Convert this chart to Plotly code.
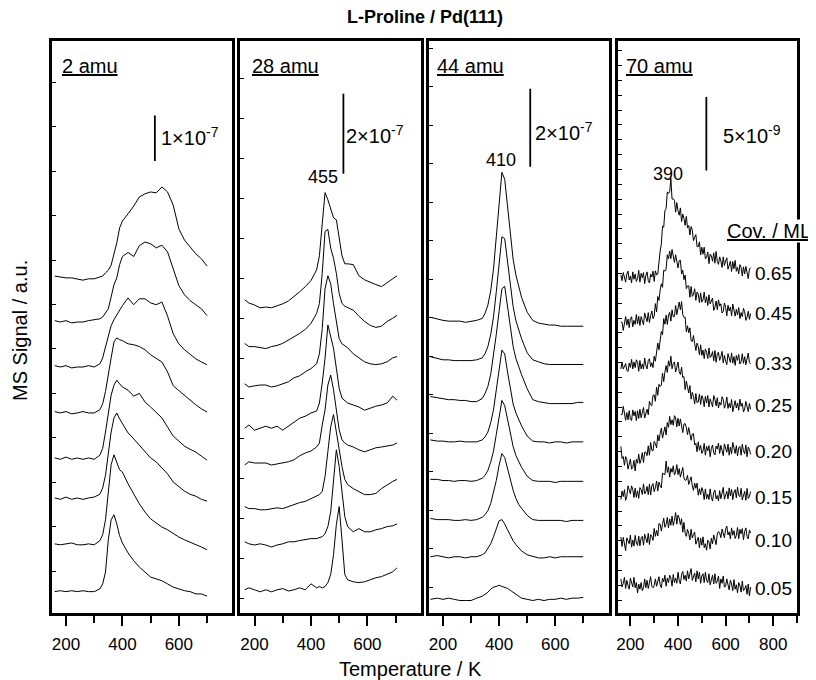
import plotly.graph_objects as go

# The page body has an 8 px margin; the figure fills the rest of the 816x680 window.
PAGE_OFF = 8
W, H = 816 - PAGE_OFF, 680 - PAGE_OFF
FONT = "Liberation Sans, Arial, sans-serif"

coverages = ["0.05", "0.10", "0.15", "0.20", "0.25", "0.33", "0.45", "0.65"]

# ---------------- 2 amu (signal in nA, baseline-subtracted) ----------------
T_2amu = [160, 180, 200, 220, 240, 260, 280, 300,
          320, 330, 340, 350, 360, 370, 380, 390, 400,
          420, 440, 460, 480, 500, 520, 540, 560, 580, 600, 620, 640, 660, 680, 700]
offset_2amu = [47, 152, 252, 340, 441, 542, 641, 739]
sig_2amu = [
    [0, 2, 0, 2, 0, 2, 0, 0, 6, 17, 43, 114, 158, 169, 149, 123, 107,
     85, 68, 54, 43, 32, 28, 24, 17, 10, 6, 2, 0, -5, -5, -10],
    [0, -2, 0, 2, -2, -2, 0, -2, 7, 20, 53, 119, 174, 196, 180, 163, 158,
     132, 110, 88, 70, 55, 46, 37, 31, 22, 15, 9, 4, -2, -7, -13],
    [1, -2, 3, -2, 1, -2, 1, 3, 9, 23, 51, 95, 146, 177, 188, 175, 164,
     144, 131, 117, 104, 89, 80, 67, 54, 36, 25, 16, 9, 5, -2, -6],
    [1, -2, 3, -2, 1, -2, 1, -2, 7, 22, 58, 102, 139, 161, 172, 164, 157,
     150, 137, 143, 124, 113, 102, 89, 69, 49, 38, 27, 20, 14, 5, -4],
    [2, -1, 2, -3, -1, 2, -1, -1, 6, 19, 46, 79, 120, 155, 164, 160, 158,
     151, 149, 145, 138, 127, 118, 111, 89, 59, 48, 37, 28, 17, 8, 1],
    [2, -1, 2, -3, -1, -1, 2, -1, 6, 19, 43, 68, 90, 103, 114, 123, 134,
     151, 136, 149, 149, 140, 136, 142, 111, 72, 50, 37, 26, 17, 10, 4],
    [2, -1, 2, -3, -1, -1, 2, 4, 6, 10, 19, 28, 54, 81, 96, 125, 143,
     152, 143, 167, 175, 171, 162, 168, 153, 114, 79, 59, 46, 37, 28, 13],
    [2, 0, -2, -2, -4, -7, -4, -4, 0, 2, 9, 15, 26, 48, 75, 108, 123,
     139, 156, 176, 183, 187, 185, 198, 187, 158, 106, 81, 66, 51, 40, 24],
]

# ---------------- 28 amu (nA) ----------------
T_28amu = [165, 180, 200, 220, 240, 260, 280, 300, 320, 340, 360, 380, 400, 420,
           430, 440, 450, 460, 470, 480, 490, 500, 510, 520, 530,
           550, 570, 590, 610, 630, 650, 670, 690, 705]
offset_28amu = [58, 178, 266, 370, 462, 573, 674, 783]
sig_28amu = [
    [0, 5, 0, -5, 0, -5, 0, 3, -3, 0, 5, 0, 15, 5,
     8, 5, 8, 18, 38, 88, 163, 208, 125, 38, 25,
     20, 18, 20, 25, 30, 33, 40, 45, 55],
    [0, -5, -8, -5, -8, -13, -8, -5, 0, 0, 3, 5, 8, 8,
     10, 13, 20, 38, 75, 150, 230, 188, 125, 63, 38,
     25, 33, 25, 25, 30, 33, 38, 40, 45],
    [0, -5, -5, -8, -8, -5, -3, -5, 0, 5, 10, 13, 20, 25,
     30, 38, 75, 138, 200, 230, 188, 138, 100, 68, 55,
     45, 38, 30, 30, 33, 45, 55, 63, 68],
    [0, 8, 5, 5, 5, 0, 3, 5, 8, 13, 23, 30, 35, 45,
     55, 100, 138, 200, 225, 188, 138, 88, 63, 55, 50,
     45, 38, 33, 38, 43, 45, 48, 50, 55],
    [0, 8, -5, 0, 5, 0, 5, -5, 5, 13, 25, 30, 38, 43,
     63, 113, 175, 258, 230, 200, 150, 100, 75, 68, 63,
     58, 53, 45, 50, 55, 58, 63, 80, 70],
    [0, -8, -5, -3, -3, -8, -5, 0, 5, 15, 20, 30, 38, 50,
     75, 138, 238, 270, 250, 200, 150, 113, 100, 95, 90,
     75, 65, 55, 50, 48, 50, 55, 65, 68],
    [0, -8, -8, -10, -13, -8, -5, 0, 8, 15, 25, 35, 50, 75,
     100, 175, 280, 285, 238, 213, 175, 125, 100, 93, 90,
     83, 68, 55, 45, 40, 43, 55, 63, 70],
    [0, -8, -13, -20, -18, -20, -15, -10, -3, 8, 20, 33, 48, 75,
     110, 190, 268, 250, 225, 205, 200, 150, 110, 90, 90,
     88, 60, 50, 43, 38, 33, 43, 53, 60],
]

# ---------------- 44 amu (nA) ----------------
T_44amu = [155, 180, 200, 220, 240, 260, 280, 300, 320, 340,
           350, 360, 370, 380, 390, 400, 410, 420, 430, 440, 450, 460, 470, 480,
           500, 520, 540, 560, 580, 600, 620, 640, 660, 680, 700]
offset_44amu = [35, 144, 242, 342, 443, 554, 656, 757]
sig_44amu = [
    [0, 3, 0, 3, 0, -3, -3, -3, 3, 8,
     13, 18, 26, 31, 33, 36, 33, 31, 28, 23, 18, 13, 8, 3,
     0, -3, 0, -3, 0, 0, 3, 0, 3, 3, 5],
    [0, 3, 0, -3, 0, 0, -3, 0, 0, 5,
     10, 20, 33, 51, 72, 92, 95, 84, 69, 54, 41, 31, 23, 15,
     5, 0, -3, -3, 0, -3, 0, 0, 0, 0, 0],
    [0, -3, -3, -3, -5, -5, -3, -5, -3, 3,
     10, 20, 38, 64, 97, 136, 166, 156, 128, 97, 72, 51, 36, 26,
     8, -3, -5, -5, -5, -5, -5, -8, -5, -5, -5],
    [0, 0, -3, -3, -5, -3, -3, -5, -3, 3,
     10, 23, 44, 72, 115, 164, 202, 189, 154, 115, 84, 61, 44, 31,
     8, -3, -5, -5, -5, -8, -5, -5, -5, -5, -5],
    [0, -3, -3, -5, -5, -3, -5, -5, -5, 0,
     8, 20, 44, 77, 123, 179, 230, 220, 174, 128, 92, 69, 51, 36,
     10, -3, -5, -5, -8, -5, -5, -8, -5, -5, -5],
    [0, -3, -5, -8, -8, -10, -10, -13, -13, -5,
     8, 26, 56, 102, 159, 218, 276, 282, 230, 172, 128, 97, 74, 56,
     20, -8, -13, -15, -18, -18, -18, -18, -18, -15, -15],
    [0, -5, -8, -8, -10, -10, -10, -10, -8, -3,
     8, 26, 56, 102, 166, 243, 307, 302, 243, 179, 128, 92, 67, 46,
     10, -8, -13, -18, -20, -20, -20, -20, -20, -20, -20],
    [0, -5, -8, -10, -10, -10, -13, -10, -8, -3,
     10, 31, 67, 123, 200, 287, 371, 353, 282, 205, 148, 108, 77, 51,
     13, -8, -15, -18, -20, -20, -23, -23, -23, -23, -23],
]

# ---------------- 70 amu (units of 1e-10 A), sampled every 5 K from 160 to 705 K ----------------
T_70amu = list(range(160, 706, 5))
offset_70amu = [20.2, 47.6, 81.6, 108.8, 138.0, 167.5, 194.7, 228.5]
sig_70amu = [
    # 0.05
    [3, -2.5, 0, 4, -3.5, 2, -1.5, -4, 3.5, 0.5,
     -2.5, 4, -3, 0.5, -6.5, -0.5, -4, 0.5, -5, -3,
     3, -3, 2, -3.5, 1, 4.5, -2, -3, -1.5, 3,
     -2, 2, 4.5, -1, -3, 3.5, 1, 5.5, -2, 3.5,
     0.5, 5.5, 3.5, -2, 6, 0.5, 3.5, 0, 7.5, 2,
     -0.5, 6, 8, 2.5, 5.5, 1.5, 8.5, 3, 7.5, 10,
     2, 4.5, 7, 1, 8.5, 3, 7.5, 0, 5, 6.5,
     0.5, 7.5, 2, 0.5, 6.5, -1, 3.5, 5.5, -0.5, 6.5,
     0, 1.5, 5, -3.5, 3, 0, 5, -2.5, -2, 3,
     -1, -4.5, 2, -0.5, -5, 2.5, -4, -1, -6.5, 0.5,
     -1.5, -6, 1.5, -5, -4, -1.5, -7.5, -0.5, -8.5, -2.5],
    # 0.10
    [4, -2.3, 3.9, -1.6, -5.2, 3.5, 1.7, -0.5, 5.4, -2.8,
     2, -2.1, 5.2, 0, -1.6, 4.7, -2, 3.5, 4.5, -1.5,
     6, 1.9, 0.2, 6.6, -1.1, 5.7, 4.6, 1.8, 9.9, 4.5,
     8.5, 4.8, 13.2, 12.9, 8.1, 12.7, 16.9, 10.7, 12.6, 17.4,
     10.3, 16.4, 12.1, 18.3, 12, 15.3, 20.7, 12.8, 19, 17,
     12.5, 16.5, 7.4, 14, 6.7, 4.5, 9.3, 6.5, 2.1, 9.3,
     3.4, 5.9, 7.4, -0.8, 1.5, 3.9, -3.3, 3.3, -1.5, 4.2,
     -3.2, -0.5, -4.9, 2, 0.8, -4, 3.2, -0.6, 5.5, 1.7,
     -1.1, 6.1, 7.8, 6.9, 3.6, 9.5, 5.8, 3.6, 9.5, 11.5,
     5.5, 7.6, 2.8, 10.3, 5.3, 8.4, 3.1, 5.1, 10.6, 2.9,
     9.3, 6.3, 9.8, 2.3, 7.8, 10.3, 4.3, 2.8, 8.8, 6.8],
    # 0.15
    [-4.5, 1.3, -2.4, 2.3, -5, -2.3, 4.9, 1.9, -0.6, 4.9,
     2.4, -3.1, 3.3, -2.9, 1.5, -3.6, 3.7, 2.4, -1, 6.2,
     -0.6, 0.7, 4.5, -1.1, 6.2, -1.4, 4.9, 6.4, 0.9, 3.7,
     8.1, 1.3, 7.4, 5, 3.5, 13.4, 12.7, 12.5, 21.7, 14,
     17.8, 10.8, 16.8, 14.1, 18.5, 12.3, 14.1, 19.3, 12.5, 16.6,
     10.8, 14.6, 17.4, 10.2, 8.6, 9, 12, 5.8, 9.2, 11,
     4.8, 1.8, 6.8, 3.2, 6.7, -1.5, 2.9, -1, 3.7, 1.3,
     -4.5, 2.8, -3.9, -0.9, -4.4, 2.8, -3, -5.5, 0.5, 2,
     -4, -1.7, -5.4, 1.6, -3.9, 1, 3.8, -4.2, -1.7, 1.2,
     -4, 3.5, -2, 2.5, -4.5, 0.7, 2.3, -3.3, 4, -1.5,
     -2.5, 3.2, -4.7, -0.5, 1.1, -4.9, 3.1, -3.7, -2.5, 1],
    # 0.20
    [4.5, -3.7, -2.4, -8.4, -2.4, -4.5, -11, -7.4, -4.2, -11,
     -9.8, -5, -12.2, -4.3, -6.9, -0.8, -7.1, -4.4, 0.3, -6.5,
     0.6, 0.6, -1.8, 4.9, -1.5, 7.2, 1.9, 1.4, 7.9, 6.5,
     3.5, 12.3, 8.2, 13.1, 16.9, 10.1, 13.8, 17.8, 12.3, 20.7,
     17.5, 24.9, 19.3, 22.6, 18.9, 25.4, 23.9, 17.8, 23.6, 18.4,
     23.2, 18, 13.9, 19.7, 20, 17.5, 12.5, 17.3, 12.6, 8.7,
     12.9, 13.2, 5.5, 6.6, 0.8, 7.6, 1.9, 5.1, -0.3, 1.4,
     6.5, -1.5, 4.5, 1.5, 5, -2.5, 3, 5.5, 0.2, -1.3,
     4.7, 2.7, 6.7, -0.3, 5.2, 0.7, -1.8, 6.2, 3.7, 0.5,
     6, -1.5, 4, -0.5, 7.2, 1.7, -0.3, 5, -2, 3.5,
     4.5, -1.5, 6, 1.5, -0.5, 5.5, -2.5, 4, 2.5, -1],
    # 0.25
    [-3, -3, 2.5, -1.7, -6.9, -1.7, -6.6, -0.4, -6.3, -7.1,
     0.1, -3.9, -0.9, -7.2, -0.5, -5.7, 0.6, -5.2, -1.5, 1.8,
     -5.4, -2.9, 0.6, -3.2, 6, 3.7, 2.9, 10.1, 10.3, 6,
     15.7, 10.1, 17.5, 16, 17, 25.2, 19.4, 25.8, 30.2, 25.6,
     33.5, 29.8, 36.6, 28.1, 31.6, 32.8, 25.9, 29.1, 32.7, 26.2,
     24.2, 29.2, 22.1, 22.8, 13.9, 19.7, 14.5, 11.6, 16.7, 7.4,
     12, 9.3, 4.2, 11.3, 5, 5.6, 10.8, 3.8, 9.8, 7.8,
     2.3, 9.3, 4.8, 9.9, 2.1, 7.6, 5.1, 2.2, 9.9, 7.4,
     2.9, 8.4, 1.4, 5.4, 3.4, 9.1, 7.3, 1.3, 3.8, 8.9,
     1.1, 4.6, 1.6, 7.2, -1.1, 4.4, 6.4, 1.4, 4.9, -0.1,
     7.4, 2.6, 4.7, -1.3, 0.7, 5.9, 3, -1, 4.5, 0.5],
    # 0.33
    [-1.5, 3.2, -1.6, 1, 2.1, -2.4, -3.3, 2.4, -0.5, 5,
     -1.5, 3.2, -0.6, 4.7, 3, -3.1, 4.2, -1.5, 1.9, -1.6,
     5.9, 0.7, -1.5, 4.2, 5.4, 0, 2.7, -0.6, 7.1, 3.7,
     10.2, 16.1, 11.5, 17.7, 23.9, 21.8, 32.7, 28.9, 35.1, 28.8,
     35, 37, 31, 38.7, 33.9, 34.2, 41.6, 35.4, 41.3, 44,
     38.7, 44.3, 35.4, 33.5, 33.6, 23.7, 27.8, 23.1, 26.4, 17.7,
     17, 21.2, 15.8, 11, 16.1, 13.6, 8.1, 14.9, 7.7, 11.3,
     5.5, 12.1, 9.8, 5.5, 12.7, 6.2, 7.2, 10.3, 4, 11,
     3, 8.6, 9.8, 4.3, 6.8, 10.4, 2.6, 7.7, 3.9, 1.4,
     8.9, 5.9, 2.9, 9.4, 2.4, 6.9, 0.9, 7.6, 4.3, 8.3,
     1.8, 3.3, 8.8, 2.3, 6.8, 1.3, 5.8, 9.3, 2.8, 1.8],
    # 0.45
    [3, 3, -2.5, 1.7, 6.9, 1.1, 5.2, -0.6, 5.6, 6.8,
     -0.1, 4.3, 1.6, 8.3, 1.9, 7.1, 0.8, 6.9, 3.6, 1.3,
     9.4, 6.9, 3.4, 9.6, 2.8, 7.5, 10.7, 5.5, 7.3, 15.7,
     10.1, 20.5, 17.9, 24.8, 29.2, 26.8, 38.4, 37.8, 39.2, 48.9,
     46.1, 51.5, 46.3, 52.5, 46.6, 43.7, 48.9, 44.7, 40, 44.9,
     45.2, 35.8, 38.4, 32, 35.1, 25.9, 27.7, 27.8, 20, 27.3,
     20.6, 21.9, 25.8, 17.9, 23.6, 22.2, 16.4, 23, 16.7, 18.3,
     23.5, 16.2, 20.4, 14.5, 21.7, 15.5, 17.3, 19.5, 11.1, 13.3,
     17.5, 11.6, 18.3, 14, 15.6, 9.3, 10.4, 16.1, 13.2, 7.4,
     14.6, 10.7, 13.4, 7.4, 15.4, 9.5, 7.2, 11.8, 8, 13,
     5.5, 9.6, 6.8, 12.5, 10.2, 4.3, 6.5, 10.5, 5, 9],
    # 0.65
    [1.5, -2.5, 3, -1, -3.5, 2, 4, -2, 0.5, -4,
     3.5, -1.5, 2, -3, -1, 4.5, -3.5, 2.5, -0.5, 3,
     -4.5, 1, 3.5, -2.5, -4, 2, 0, 4, -3, 4.2,
     1.4, 2, 13, 17.7, 22.3, 34.6, 33.9, 45.2, 46.5, 57.9,
     56.8, 58, 67, 53, 53.2, 52.1, 44.1, 50.6, 45.1, 42,
     47, 37.7, 42.8, 39.9, 35.1, 41.2, 33.4, 35, 28.6, 34.3,
     31.9, 24.7, 27, 28.8, 20.6, 20.7, 23.9, 15, 20.2, 15.5,
     20.3, 12.3, 13.3, 17, 9.1, 15.6, 14.6, 10.7, 16.4, 9.4,
     17.4, 10.7, 8.6, 13.7, 10.9, 6.5, 13.7, 7.8, 11, 13.1,
     5.3, 8, 10.7, 3.8, 10.5, 5.6, 11.3, 3.9, 6.6, 2.2,
     8.4, 6.6, 0.8, 6.9, 2.1, 7.2, 2.4, -1.1, 5.4, 6.4],
]

panel_names = ["2 amu", "28 amu", "44 amu", "70 amu"]
peak_labels = ["", "455", "410", "390"]
scale_labels = ["1\u00d710<sup>-7</sup>", "2\u00d710<sup>-7</sup>",
                "2\u00d710<sup>-7</sup>", "5\u00d710<sup>-9</sup>"]
x_tickvals = [[200, 400, 600], [200, 400, 600], [200, 400, 600], [200, 400, 600, 800]]

panels = [
    (T_2amu, offset_2amu, sig_2amu),
    (T_28amu, offset_28amu, sig_28amu),
    (T_44amu, offset_44amu, sig_44amu),
    (T_70amu, offset_70amu, sig_70amu),
]
line_w = [1, 1, 1, 1]

# layout geometry (window pixels)
x_dom_px = [(50, 231), (239, 420), (428, 608), (618, 797)]
y_top_px, y_bot_px = 41, 613
x_ranges = [[150, 790], [150, 790], [150, 790], [150, 900]]
y_ranges = [[0, 1258], [0, 1430], [0, 1464], [0, 389]]
y_tick0 = [92.2, 36.75, 65.5, 8.7]
y_dtick = [97.7, 100, 98.6, 10.1]
scale_bar = [(515, 994, 100), (515, 1098, 200), (511, 1142, 200), (519, 301, 50)]


def px_x(xp):
    return (xp - PAGE_OFF) / W


def px_y(yp):
    return 1 - (yp - PAGE_OFF) / H


fig = go.Figure()
for p, (T, offs, sigs) in enumerate(panels):
    sfx = "" if p == 0 else str(p + 1)
    for i in range(len(coverages)):
        fig.add_trace(go.Scatter(
            x=T, y=[offs[i] + v for v in sigs[i]], mode="lines",
            line=dict(color="black", width=line_w[p]), showlegend=False,
            xaxis="x" + sfx, yaxis="y" + sfx, name=f"{panel_names[p]} {coverages[i]} ML",
            hoverinfo="skip"))

layout = dict(width=W, height=H, margin=dict(l=0, r=0, t=0, b=0), autosize=False,
              paper_bgcolor="white", plot_bgcolor="white", showlegend=False,
              font=dict(family=FONT, color="black"))
ydom = [px_y(y_bot_px), px_y(y_top_px)]
for p in range(4):
    sfx = "" if p == 0 else str(p + 1)
    layout["xaxis" + sfx] = dict(
        domain=[px_x(x_dom_px[p][0]), px_x(x_dom_px[p][1])], anchor="y" + sfx,
        range=x_ranges[p], showgrid=False, zeroline=False,
        showline=True, linecolor="black", linewidth=2.5, mirror=True,
        ticks="outside", ticklen=10, tickwidth=2, tickcolor="black",
        tickmode="array", tickvals=x_tickvals[p], ticklabelstandoff=4,
        tickfont=dict(size=17, family=FONT, color="black"),
        minor=dict(tickmode="linear", tick0=100, dtick=100, ticks="outside",
                   ticklen=7, tickwidth=2, tickcolor="black", showgrid=False))
    layout["yaxis" + sfx] = dict(
        domain=ydom, anchor="x" + sfx, range=y_ranges[p],
        showgrid=False, zeroline=False, showticklabels=False,
        showline=True, linecolor="black", linewidth=2.5, mirror=True,
        ticks="inside", ticklen=4, tickwidth=1, tickcolor="black",
        tickmode="linear", tick0=y_tick0[p], dtick=y_dtick[p])
fig.update_layout(**layout)

# scale bars (in data units of each panel)
for p, (xb, yb, ln) in enumerate(scale_bar):
    sfx = "" if p == 0 else str(p + 1)
    fig.add_shape(type="line", xref="x" + sfx, yref="y" + sfx,
                  x0=xb, x1=xb, y0=yb, y1=yb + ln,
                  line=dict(color="black", width=1.8))


def ann(text, xp, yp, size, xanchor="left", yanchor="middle", **kw):
    return dict(text=text, x=px_x(xp), y=px_y(yp), xref="paper", yref="paper",
                showarrow=False, xanchor=xanchor, yanchor=yanchor,
                font=dict(size=size, family=FONT, color="black"), **kw)


anns = []
name_px = [(58, 66), (249, 66), (434, 66), (624, 66)]
for p in range(4):
    anns.append(ann("<u>" + panel_names[p] + "</u>", name_px[p][0], name_px[p][1], 20))
scale_px = [(157, 136), (343, 134), (532, 131), (721, 134)]
for p in range(4):
    anns.append(ann(scale_labels[p], scale_px[p][0], scale_px[p][1], 20))
peak_px = [(None, None), (322, 177), (500, 160), (668, 174)]
for p in range(1, 4):
    anns.append(ann(peak_labels[p], peak_px[p][0], peak_px[p][1], 18, xanchor="center"))
cov_label_px = [588, 540, 497, 451, 405, 363, 314, 273]
for i, c in enumerate(coverages):
    anns.append(ann(c, 753, cov_label_px[i], 19))
anns.append(ann("<u>Cov. / ML</u>", 726, 231, 20, bgcolor="white", borderpad=0))
anns.append(ann("<b>L-Proline / Pd(111)</b>", 424, 17, 18, xanchor="center"))
anns.append(ann("Temperature / K", 409, 669, 20, xanchor="center"))
anns.append(ann("MS Signal / a.u.", 18, 330, 20, xanchor="center", textangle=-90))
fig.update_layout(annotations=anns)

fig.write_html("out.html")
